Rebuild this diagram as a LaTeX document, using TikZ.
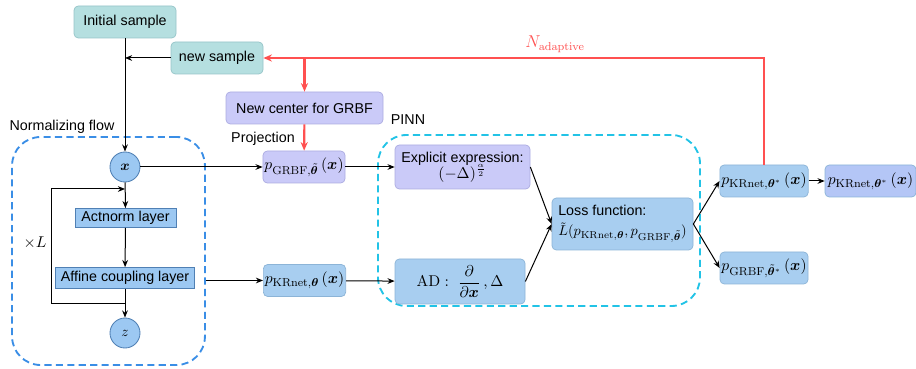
\documentclass[tikz,border=0pt]{standalone}
\usepackage{amsmath, amssymb, bm}
\usepackage[no-math]{fontspec}
\setmainfont{Liberation Sans}
\usetikzlibrary{arrows.meta, positioning}

\definecolor{tealfill}{RGB}{181,223,224}
\definecolor{tealdraw}{RGB}{150,196,200}
\definecolor{lavfill}{RGB}{202,202,248}
\definecolor{lavdraw}{RGB}{172,172,225}
\definecolor{bluefill}{RGB}{168,206,240}
\definecolor{bluedraw}{RGB}{140,180,215}
\definecolor{perifill}{RGB}{180,198,246}
\definecolor{layerfill}{RGB}{156,200,242}
\definecolor{layerdraw}{RGB}{80,128,180}
\definecolor{flowblue}{RGB}{58,142,230}
\definecolor{pinncyan}{RGB}{34,195,230}
\definecolor{adapred}{RGB}{255,80,80}

\tikzset{
  box/.style={draw, rounded corners=3pt, line width=0.5pt, inner sep=2pt, align=center},
  tealbox/.style={box, fill=tealfill, draw=tealdraw},
  lavbox/.style={box, fill=lavfill, draw=lavdraw},
  bluebox/.style={box, fill=bluefill, draw=bluedraw},
  mathsize/.style={font=\fontsize{11}{13}\selectfont},
  layer/.style={draw=layerdraw, fill=layerfill, line width=0.5pt, inner sep=1pt},
  var/.style={circle, draw=layerdraw, fill=layerfill, line width=0.6pt, minimum size=21pt, inner sep=0pt},
  region/.style={draw, dashed, rounded corners=20pt, line width=1.3pt, dash pattern=on 5pt off 3pt},
  flecha/.style={-{Stealth[length=5pt,width=4pt]}, line width=0.7pt},
  roja/.style={adapred, line width=1.5pt},
}

\begin{document}
\begin{tikzpicture}[x=0.7pt, y=-0.7pt]
  \useasboundingbox (0,0) rectangle (916,369);

  % Regiones punteadas
  \node[region, draw=flowblue, minimum width=135pt, minimum height=159.6pt] (flow) at (108.5,251) {};
  \node[region, draw=pinncyan, minimum width=225.4pt, minimum height=119.7pt] (pinn) at (539,220.5) {};
  \node at (62,127) {Normalizing flow};
  \node at (408,120) {PINN};

  % Muestras
  \node[tealbox, minimum width=71.4pt, minimum height=22.4pt] (init) at (125,22) {Initial sample};
  \node[tealbox, minimum width=64.4pt, minimum height=22.4pt] (newsample) at (217,58) {new sample};

  % Flujo normalizante
  \node[var] (x) at (125,167) {$\bm{x}$};
  \node[layer, minimum width=70.7pt, minimum height=13.3pt] (act) at (125.5,218) {Actnorm layer};
  \node[layer, minimum width=97.3pt, minimum height=14.7pt] (aff) at (125,278) {Affine coupling layer};
  \node[var] (z) at (125,333) {$z$};
  \node[mathsize] at (35,243) {$\times L$};
  \coordinate (loopin) at (125,189);
  \coordinate (loopout) at (125,304);

  \draw[flecha] (init) -- (x);
  \draw[flecha] (newsample.west) -- (newsample.west -| init.south);
  \draw[flecha] (x) -- (act);
  \draw[flecha] (act) -- (aff);
  \draw[flecha] (aff) -- (z);
  \draw[flecha] (loopout) -- ++(-74,0) |- (loopin);

  % GRBF
  \node[lavbox, minimum width=109.9pt, minimum height=22.4pt] (center) at (304.5,108) {New center for GRBF};
  \node[lavbox, mathsize, inner sep=1pt, minimum width=56pt, minimum height=22.4pt] (grbf) at (304,167) {$p_{\mathrm{GRBF},\tilde{\bm{\theta}}}\,(\bm{x})$};
  \node at (263,139) {Projection};
  \node[bluebox, mathsize, inner sep=1pt, minimum width=56.7pt, minimum height=22.4pt] (krnet) at (304.5,280.5) {$p_{\mathrm{KRnet},\bm{\theta}}\,(\bm{x})$};

  \draw[flecha] (x) -- (grbf);
  \draw[flecha] (flow.east |- krnet.west) -- (krnet.west);

  % PINN
  \node[lavbox, minimum width=94.5pt, minimum height=30.8pt] (explicit) at (462.5,167) {Explicit expression:\\[-1pt] {\fontsize{11}{13}\selectfont$(-\Delta)^{\frac{\alpha}{2}}$}};
  \node[bluebox, mathsize, minimum width=91pt, minimum height=31.5pt] (ad) at (460,281.5) {$\mathrm{AD}:\ \dfrac{\partial}{\partial\bm{x}}\,,\Delta$};
  \node[bluebox, minimum width=98.7pt, minimum height=36.4pt, align=left] (loss) at (622.5,224) {Loss function:\\[2pt] $\tilde{L}(p_{\mathrm{KRnet},\bm{\theta}}, p_{\mathrm{GRBF},\tilde{\bm{\theta}}})$};

  \draw[flecha] (grbf) -- (explicit);
  \draw[flecha] (krnet) -- (ad);
  \draw[flecha] (explicit.east) -- (loss.west);
  \draw[flecha] (ad.east) -- (loss.west);

  % Resultados
  \node[bluebox, mathsize, inner sep=1pt, minimum width=60.2pt, minimum height=22.4pt] (krstar) at (764,181) {$p_{\mathrm{KRnet},\bm{\theta}^{*}}\,(\bm{x})$};
  \node[box, mathsize, inner sep=1pt, fill=perifill, draw=bluedraw, minimum width=63.7pt, minimum height=22.4pt] (krfinal) at (870.5,181) {$p_{\mathrm{KRnet},\bm{\theta}^{*}}\,(\bm{x})$};
  \node[bluebox, mathsize, inner sep=1pt, minimum width=60.2pt, minimum height=22.4pt] (grbfstar) at (764,268) {$p_{\mathrm{GRBF},\tilde{\bm{\theta}}^{*}}\,(\bm{x})$};

  \draw[flecha] (loss.east) -- (krstar.west);
  \draw[flecha] (loss.east) -- (grbfstar.west);
  \draw[flecha] (krstar) -- (krfinal);

  % Lazo adaptativo en rojo
  \draw[roja, -{Stealth[length=6pt,width=5pt]}] (krstar.north) |- (newsample.east);
  \draw[roja, -{Stealth[length=6pt,width=5pt]}] (center.north |- newsample.east) -- (center.north);
  \draw[roja, -{Stealth[length=6pt,width=5pt]}] (center) -- (grbf);
  \node[adapred, font=\large] at (555,44) {$N_{\mathrm{adaptive}}$};
\end{tikzpicture}
\end{document}
